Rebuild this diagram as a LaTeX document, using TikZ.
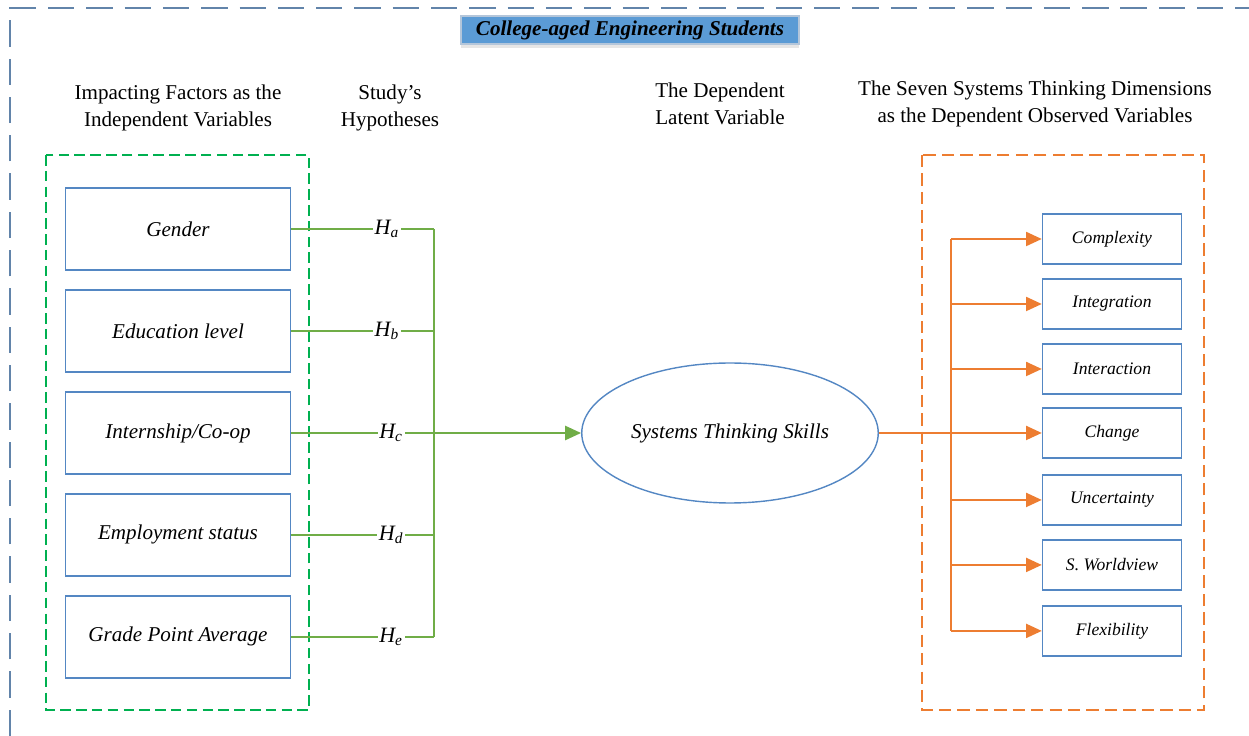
\documentclass[tikz,border=0pt]{standalone}
\usepackage{fontspec}
\setmainfont{Liberation Serif}
\usetikzlibrary{positioning, arrows.meta, shapes.geometric, shadows}

\definecolor{frameblue}{RGB}{98,132,170}
\definecolor{boxblue}{RGB}{84,135,195}
\definecolor{titleblue}{RGB}{91,155,213}
\definecolor{hypgreen}{RGB}{112,173,71}
\definecolor{dashgreen}{RGB}{0,176,80}
\definecolor{dimorange}{RGB}{237,125,49}

\begin{document}
\begin{tikzpicture}[x=0.02cm, y=-0.02cm, on grid,
    factor/.style={draw=boxblue, line width=0.8pt, minimum width=4.5cm, minimum height=1.64cm,
        font=\itshape\fontsize{12}{14}\selectfont},
    dimension/.style={draw=boxblue, line width=0.8pt, minimum width=2.78cm, minimum height=1cm,
        font=\itshape\fontsize{10}{12}\selectfont},
    header/.style={align=center, font=\fontsize{12}{15.2}\selectfont},
    hyp/.style={fill=white, text=black, inner sep=1pt, font=\itshape\fontsize{12.5}{14}\selectfont},
    hline/.style={hypgreen, line width=1.15pt},
    oline/.style={dimorange, line width=1.15pt},
    tip/.style={-{Triangle[length=9pt, width=8pt]}}]

   \useasboundingbox (0,0) rectangle (1249,736);

   % outer frame and title
   \draw[frameblue, line width=0.8pt, dash pattern=on 15pt off 6.8pt] (10,736) -- (10,8) -- (1249,8);
   \node[draw={rgb,255:red,180;green,198;blue,218}, line width=1pt, fill=titleblue,
         minimum width=6.76cm, minimum height=0.56cm, inner sep=0pt,
         drop shadow={opacity=0.2, shadow xshift=0pt, shadow yshift=-2pt},
         font=\bfseries\itshape\fontsize{12}{14}\selectfont] (title) at (630,30) {College-aged Engineering Students};

   % column headers
   \node[header] (hfactors) at (178,108) {Impacting Factors as the\\Independent Variables};
   \node[header] (hhyp)     at (390,108) {Study’s\\Hypotheses};
   \node[header] (hlatent)  at (720,104) {The Dependent\\Latent Variable};
   \node[header] (hdims)    at (1035,104) {The Seven Systems Thinking Dimensions\\as the Dependent Observed Variables};

   % group frames
   \draw[dashgreen, line width=0.8pt, dash pattern=on 6pt off 3pt] (46,155) rectangle (309,710);
   \draw[dimorange, line width=0.8pt, dash pattern=on 7pt off 3.5pt] (922,155) rectangle (1204,710);

   % independent variables
   \node[factor] (gender)     at (178,229)             {Gender};
   \node[factor] (education)  [below=2.04cm of gender]     {Education level};
   \node[factor] (internship) [below=2.04cm of education]  {Internship/Co-op};
   \node[factor] (employment) [below=2.04cm of internship] {Employment status};
   \node[factor] (gpa)        [below=2.04cm of employment] {Grade Point Average};

   % latent variable
   \node[ellipse, draw=boxblue, line width=0.8pt, minimum width=5.92cm, minimum height=2.8cm,
         font=\itshape\fontsize{12}{14}\selectfont] (skills) at (730,433) {Systems Thinking Skills};

   % observed variables
   \node[dimension] (complexity)  at (1112,239)               {Complexity};
   \node[dimension] (integration) [below=1.3cm of complexity]  {Integration};
   \node[dimension] (interaction) [below=1.3cm of integration] {Interaction};
   \node[dimension] (change)      [below=1.28cm of interaction] {Change};
   \node[dimension] (uncertainty) [below=1.34cm of change]      {Uncertainty};
   \node[dimension] (worldview)   [below=1.3cm of uncertainty]  {S. Worldview};
   \node[dimension] (flexibility) [below=1.32cm of worldview]   {Flexibility};

   \coordinate (hub) at (434,433);
   \coordinate (split) at (951,433);

   % hypotheses
   \path[hline]
    (gender.east)     edge node[hyp, pos=0.67] {H\textsubscript{a}} (gender.east -| hub)
    (education.east)  edge node[hyp, pos=0.67] {H\textsubscript{b}} (education.east -| hub)
    (internship.east) edge node[hyp, pos=0.7]  {H\textsubscript{c}} (internship.east -| hub)
    (employment.east) edge node[hyp, pos=0.7]  {H\textsubscript{d}} (employment.east -| hub)
    (gpa.east)        edge node[hyp, pos=0.7]  {H\textsubscript{e}} (gpa.east -| hub)
    (gender.east -| hub) edge (gpa.east -| hub);
   \draw[hline, tip] (hub) -- (skills);

   % dimensions
   \draw[oline] (skills) -- (split);
   \draw[oline] (complexity -| split) -- (flexibility -| split);
   \foreach \dim in {complexity, integration, interaction, change, uncertainty, worldview, flexibility}
     \draw[oline, tip] (\dim -| split) -- (\dim);

\end{tikzpicture}
\end{document}
